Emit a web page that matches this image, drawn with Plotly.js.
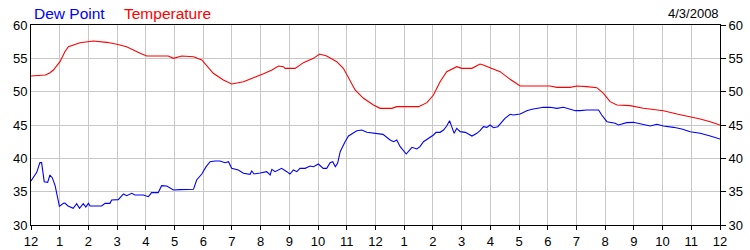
<!DOCTYPE html>
<html>
<head>
<meta charset="utf-8">
<script src="https://cdn.plot.ly/plotly-3.0.1.min.js"></script>
<style>html,body{margin:0;padding:0;background:#fff;}#chart{width:750px;height:250px;}</style>
</head>
<body>
<div id="chart"></div>
<script>
// Hours since midnight (0 = 12 AM, 24 = next 12 AM)
var tempHours = [0, 0.2, 0.5, 0.65, 0.78, 1.01, 1.18, 1.3, 1.71, 2.17, 2.64, 2.99, 3.33, 3.8, 4.03, 4.78, 4.96, 5.25, 5.66, 5.95, 6.35, 6.7, 6.99, 7.4, 7.86, 8.1, 8.39, 8.62, 8.79, 8.85, 9.2, 9.49, 9.84, 10.05, 10.3, 10.65, 10.88, 11.11, 11.29, 11.58, 11.93, 12.16, 12.57, 12.74, 13.5, 13.79, 14.02, 14.25, 14.48, 14.83, 15.0, 15.36, 15.64, 15.75, 15.99, 16.34, 16.69, 17.04, 18.08, 18.32, 18.78, 19.01, 19.36, 19.71, 19.94, 20.17, 20.41, 20.87, 21.33, 22.03, 22.5, 22.96, 23.31, 23.66, 24.0];
var temperature = [52.35, 52.45, 52.5, 52.8, 53.25, 54.5, 56.0, 56.75, 57.35, 57.6, 57.4, 57.1, 56.75, 55.75, 55.35, 55.35, 55.0, 55.35, 55.25, 54.75, 52.75, 51.75, 51.15, 51.5, 52.25, 52.7, 53.25, 53.85, 53.75, 53.5, 53.5, 54.35, 55.0, 55.65, 55.35, 54.5, 53.5, 51.75, 50.25, 49.0, 48.0, 47.5, 47.5, 47.75, 47.75, 48.35, 49.5, 51.5, 53.0, 53.75, 53.5, 53.5, 54.15, 54.0, 53.6, 53.0, 51.85, 50.85, 50.85, 50.65, 50.65, 50.85, 50.75, 50.6, 49.75, 48.5, 48.0, 47.9, 47.5, 47.15, 46.65, 46.25, 45.9, 45.5, 45.0];

var dewHours = [0, 0.2, 0.31, 0.37, 0.46, 0.58, 0.66, 0.74, 0.84, 0.99, 1.13, 1.18, 1.29, 1.47, 1.59, 1.69, 1.82, 1.91, 2.0, 2.06, 2.46, 2.58, 2.75, 2.81, 3.04, 3.22, 3.33, 3.51, 3.62, 3.91, 4.09, 4.2, 4.43, 4.55, 4.73, 4.96, 5.19, 5.66, 5.77, 5.95, 6.1, 6.24, 6.41, 6.58, 6.76, 6.88, 6.99, 7.22, 7.4, 7.63, 7.69, 7.77, 7.98, 8.21, 8.33, 8.39, 8.5, 8.73, 8.91, 9.02, 9.14, 9.26, 9.37, 9.55, 9.72, 9.84, 10.01, 10.18, 10.3, 10.42, 10.51, 10.6, 10.68, 10.77, 10.94, 11.06, 11.35, 11.52, 11.7, 11.99, 12.26, 12.51, 12.63, 12.74, 12.86, 13.07, 13.15, 13.27, 13.44, 13.55, 13.67, 13.85, 14.02, 14.11, 14.25, 14.37, 14.48, 14.58, 14.66, 14.74, 14.83, 14.95, 15.13, 15.36, 15.53, 15.64, 15.76, 15.88, 15.99, 16.11, 16.26, 16.4, 16.51, 16.69, 16.8, 17.04, 17.27, 17.45, 17.68, 17.85, 18.08, 18.32, 18.55, 18.78, 18.96, 19.13, 19.36, 19.77, 19.88, 20.06, 20.35, 20.46, 20.64, 20.75, 20.98, 21.27, 21.57, 21.8, 22.03, 22.38, 22.67, 22.96, 23.31, 23.66, 24.0];
var dewPoint = [36.6, 37.9, 39.35, 39.35, 36.5, 36.4, 37.5, 37.1, 35.9, 32.8, 33.25, 33.3, 32.85, 32.5, 33.2, 32.5, 33.2, 32.7, 33.25, 32.85, 32.85, 33.25, 33.25, 33.75, 33.8, 34.65, 34.4, 34.75, 34.5, 34.5, 34.25, 34.85, 34.85, 35.9, 35.85, 35.25, 35.3, 35.35, 36.75, 37.65, 38.75, 39.5, 39.6, 39.6, 39.35, 39.5, 38.5, 38.25, 37.75, 37.6, 38.1, 37.65, 37.8, 38.0, 37.5, 38.35, 38.0, 38.5, 38.0, 37.65, 38.25, 38.0, 38.5, 38.5, 38.85, 38.75, 39.15, 38.5, 38.5, 39.35, 39.5, 38.75, 39.25, 41.0, 42.5, 43.35, 44.15, 44.25, 43.9, 43.75, 43.6, 42.75, 42.5, 42.75, 41.75, 40.65, 41.0, 41.65, 41.4, 41.75, 42.5, 43.0, 43.5, 43.9, 43.9, 44.25, 44.85, 45.65, 44.75, 43.75, 44.5, 44.0, 43.9, 43.35, 43.75, 44.15, 44.75, 44.65, 45.0, 44.6, 44.75, 45.5, 46.0, 46.6, 46.5, 46.65, 47.15, 47.35, 47.5, 47.65, 47.65, 47.5, 47.65, 47.35, 47.15, 47.15, 47.25, 47.25, 46.5, 45.5, 45.25, 45.0, 45.15, 45.35, 45.4, 45.1, 44.85, 45.1, 44.85, 44.65, 44.4, 44.0, 43.75, 43.35, 42.9];

var xTickVals = [0,1,2,3,4,5,6,7,8,9,10,11,12,13,14,15,16,17,18,19,20,21,22,23,24];
var xTickText = ['12','1','2','3','4','5','6','7','8','9','10','11','12','1','2','3','4','5','6','7','8','9','10','11','12'];
var yTickVals = [30,35,40,45,50,55,60];
var seriesNames = ['Dew Point', 'Temperature'];
var seriesColors = ['#0000ff', '#ff0000'];
var dateLabel = '4/3/2008';

var font = 'Arial, "Liberation Sans", sans-serif';

var traces = [
  {x: dewHours, y: dewPoint, type: 'scatter', mode: 'lines', name: seriesNames[0],
   line: {color: seriesColors[0], width: 1.1}, hoverinfo: 'x+y'},
  {x: tempHours, y: temperature, type: 'scatter', mode: 'lines', name: seriesNames[1],
   line: {color: seriesColors[1], width: 1.1}, hoverinfo: 'x+y'},
  {x: tempHours, y: temperature, type: 'scatter', mode: 'lines', yaxis: 'y2',
   line: {color: 'rgba(0,0,0,0)', width: 0}, hoverinfo: 'skip', showlegend: false}
];

var layout = {
  width: 750, height: 250,
  margin: {l: 31, r: 30, t: 25, b: 25, pad: 0},
  paper_bgcolor: '#ffffff', plot_bgcolor: '#ffffff',
  showlegend: false,
  font: {family: font, size: 13, color: '#000'},
  xaxis: {
    range: [0, 24], tickvals: xTickVals, ticktext: xTickText,
    showgrid: true, gridcolor: '#c8c8c8', gridwidth: 1,
    showline: true, linecolor: '#000', linewidth: 1, mirror: true,
    ticks: 'outside', ticklen: 4, tickcolor: '#000',
    zeroline: false, fixedrange: true,
    tickfont: {family: font, size: 13, color: '#000'}
  },
  yaxis: {
    range: [30, 60], tickvals: yTickVals,
    showgrid: true, gridcolor: '#c8c8c8', gridwidth: 1,
    showline: true, linecolor: '#000', linewidth: 1, mirror: true,
    ticks: '', zeroline: false, fixedrange: true,
    tickfont: {family: font, size: 13, color: '#000'}
  },
  yaxis2: {
    range: [30, 60], tickvals: yTickVals, overlaying: 'y', side: 'right',
    showgrid: false, showline: false, zeroline: false,
    ticks: 'outside', ticklen: 5, tickcolor: '#000', fixedrange: true,
    tickfont: {family: font, size: 13, color: '#000'}
  },
  annotations: [
    {xref: 'paper', yref: 'paper', x: 0, y: 1, xshift: 1, yshift: 1, xanchor: 'left', yanchor: 'bottom',
     text: seriesNames[0], showarrow: false, font: {family: font, size: 15.5, color: seriesColors[0]}},
    {xref: 'paper', yref: 'paper', x: 0, y: 1, xshift: 91, yshift: 1, xanchor: 'left', yanchor: 'bottom',
     text: seriesNames[1], showarrow: false, font: {family: font, size: 15.5, color: seriesColors[1]}},
    {xref: 'paper', yref: 'paper', x: 1, y: 1, xshift: 1, yshift: 2, xanchor: 'right', yanchor: 'bottom',
     text: dateLabel, showarrow: false, font: {family: font, size: 13, color: '#000'}}
  ]
};

Plotly.newPlot('chart', traces, layout, {displayModeBar: false, staticPlot: true});
</script>
</body>
</html>
